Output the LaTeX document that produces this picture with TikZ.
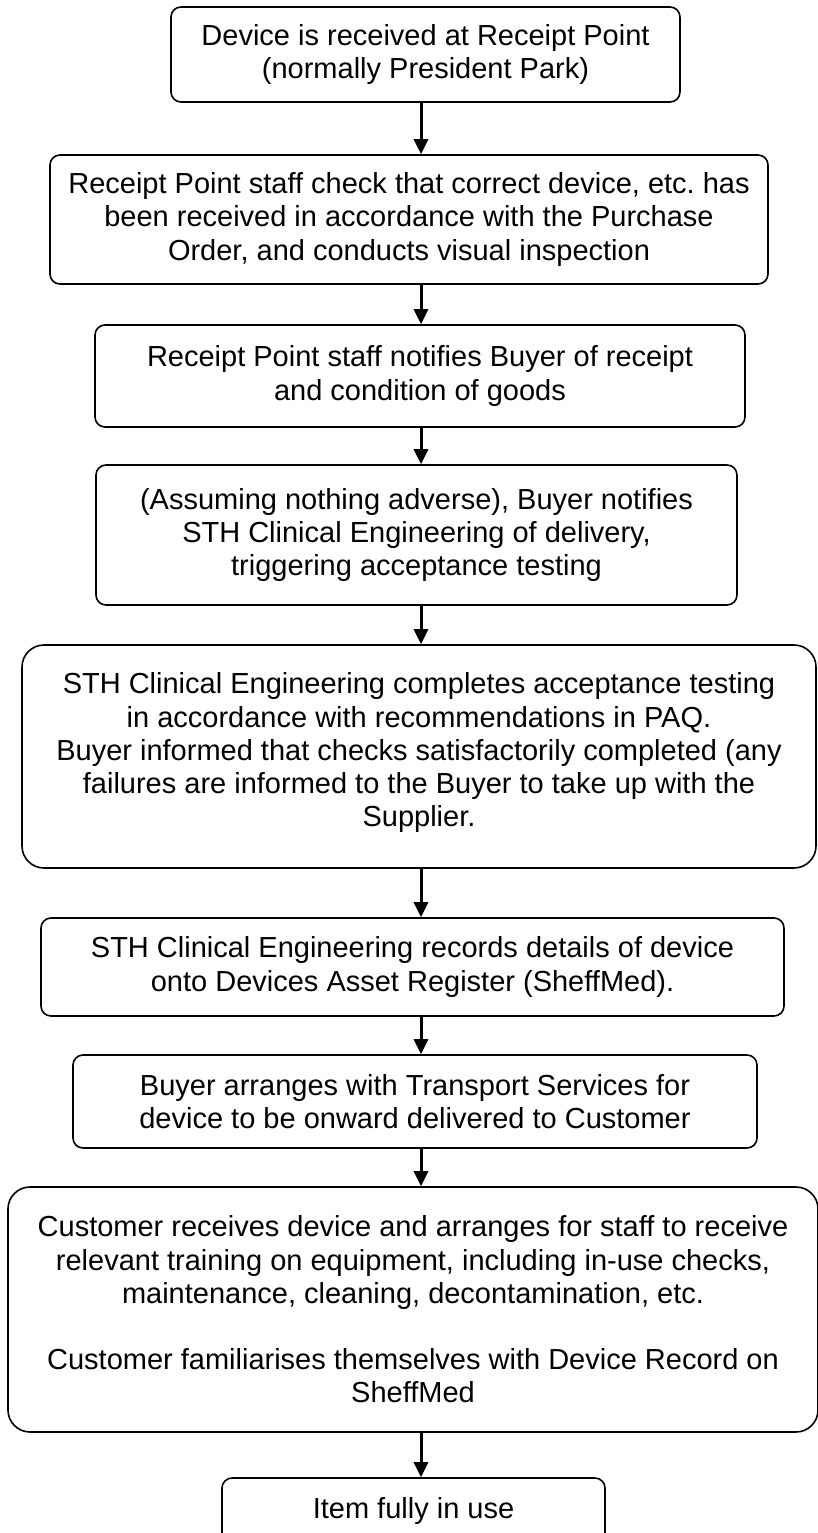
\documentclass[tikz,border=0pt]{standalone}
\usepackage{fontspec}
\setmainfont{Liberation Sans}
\usetikzlibrary{arrows.meta,positioning}
\frenchspacing

\tikzset{
  stepbox/.style={draw, line width=1.6pt, rounded corners=10pt, align=center,
    inner sep=0pt, font=\fontsize{29}{33.3}\selectfont},
  bigbox/.style={stepbox, rounded corners=22pt},
  flow/.style={line width=3pt, -{Triangle[width=14pt,length=15pt]}}
}

\begin{document}
\begin{tikzpicture}[x=1pt,y=-1pt]
	\useasboundingbox (0,0) rectangle (818,1533);
	\coordinate (axis) at (421,0);
	% process steps
	\node[stepbox, minimum width=509pt, minimum height=95pt] (received) at (425.5,54.5)
		{Device is received at Receipt Point\\(normally President Park)};
	\node[stepbox, minimum width=718pt, minimum height=129pt] (check) at (409,219.5)
		{Receipt Point staff check that correct device, etc. has\\been received in accordance with the Purchase\\Order, and conducts visual inspection};
	\node[stepbox, minimum width=650pt, minimum height=102pt] (notify) at (420,376)
		{Receipt Point staff notifies Buyer of receipt\\and condition of goods};
	\node[stepbox, minimum width=641pt, minimum height=140pt] (buyer) at (416.5,535)
		{(Assuming nothing adverse), Buyer notifies\\STH Clinical Engineering of delivery,\\triggering acceptance testing};
	\node[bigbox, minimum width=794pt, minimum height=223pt] (testing) at (419,756.5)
		{STH Clinical Engineering completes acceptance testing\\in accordance with recommendations in PAQ.\\Buyer informed that checks satisfactorily completed (any\\failures are informed to the Buyer to take up with the\\Supplier.\\[-20pt]~};
	\node[stepbox, minimum width=743pt, minimum height=98pt] (records) at (412.5,967)
		{STH Clinical Engineering records details of device\\onto Devices Asset Register (SheffMed).};
	\node[stepbox, minimum width=684pt, minimum height=93pt] (transport) at (415,1101.5)
		{Buyer arranges with Transport Services for\\device to be onward delivered to Customer};
	\node[bigbox, minimum width=810pt, minimum height=245pt] (customer) at (413,1309.5)
		{Customer receives device and arranges for staff to receive\\relevant training on equipment, including in-use checks,\\maintenance, cleaning, decontamination, etc.\\[33pt]Customer familiarises themselves with Device Record on\\SheffMed};
	\node[stepbox, minimum width=383pt, minimum height=66pt] (inuse) at (413.5,1511)
		{Item fully in use};
	% connectors
	\foreach \a/\b in {received/check, check/notify, notify/buyer, buyer/testing,
		testing/records, records/transport, transport/customer, customer/inuse}
		\draw[flow] (\a.south -| axis) -- (\b.north -| axis);
\end{tikzpicture}
\end{document}
